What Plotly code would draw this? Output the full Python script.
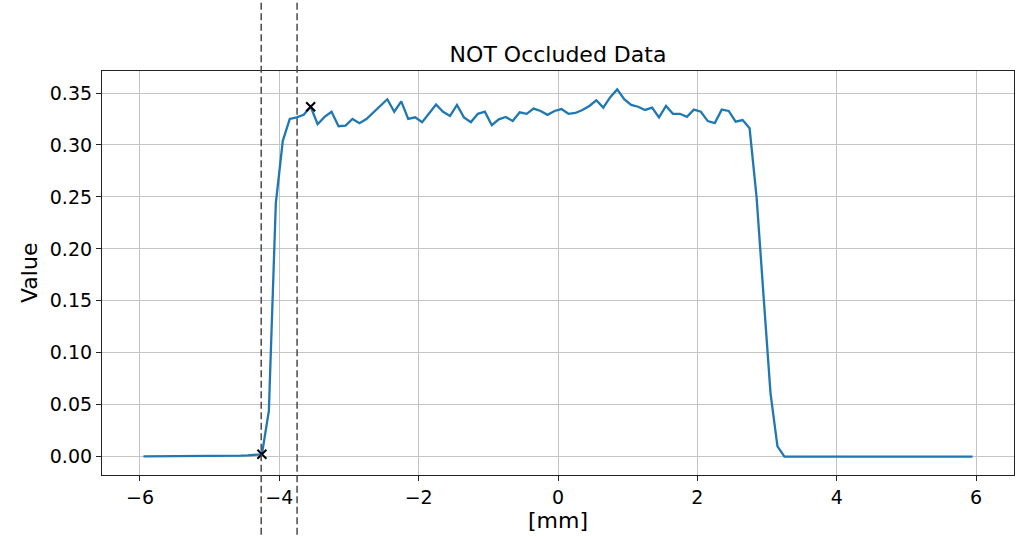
import numpy as np
import plotly.graph_objects as go

# ---- data ----
x_mm = np.round(np.linspace(-5.95, 5.95, 120), 2)
values = [
    0.0002, 0.0002, 0.0002, 0.0002, 0.0002, 0.0002, 0.0002, 0.0002, 0.0002, 0.0002, 0.0002,
    0.0003, 0.0004, 0.0006, 0.0009, 0.0012, 0.0016, 0.0022,
    0.044, 0.244, 0.304, 0.325, 0.3266, 0.329, 0.3368,
    0.320, 0.327, 0.332, 0.318, 0.3186, 0.325, 0.321, 0.325, 0.3314, 0.3375,
    0.344, 0.332, 0.342, 0.325, 0.3266, 0.322, 0.330, 0.339, 0.332, 0.328,
    0.3385, 0.3266, 0.322, 0.330, 0.332, 0.319, 0.3247, 0.327, 0.323, 0.3314,
    0.330, 0.335, 0.3327, 0.329, 0.3327, 0.3346, 0.330, 0.3308, 0.3337, 0.3375,
    0.343, 0.336, 0.346, 0.3535, 0.344, 0.3385, 0.3368, 0.3337, 0.336, 0.3266,
    0.3375, 0.330, 0.330, 0.327, 0.334, 0.332, 0.323, 0.321, 0.334, 0.3327,
    0.3224, 0.324, 0.316, 0.250, 0.155, 0.0612, 0.0099,
    0.0, 0.0, 0.0, 0.0, 0.0, 0.0, 0.0, 0.0, 0.0, 0.0, 0.0, 0.0, 0.0, 0.0,
    0.0, 0.0, 0.0, 0.0, 0.0, 0.0, 0.0, 0.0, 0.0, 0.0, 0.0, 0.0, 0.0, 0.0,
]
marker_x = [-4.25, -3.55]
marker_y = [0.0022, 0.3368]
vline_x = [-4.26, -3.745]
y_ticks = [0.0, 0.05, 0.10, 0.15, 0.20, 0.25, 0.30, 0.35]
x_ticks = [-6, -4, -2, 0, 2, 4, 6]

FONT = "DejaVu Sans"
TICK_SIZE = 19
LABEL_SIZE = 22

fig = go.Figure()
fig.add_trace(go.Scatter(x=x_mm, y=values, mode="lines",
                         line=dict(color="#1f77b4", width=2.3),
                         showlegend=False, hoverinfo="skip"))
fig.add_trace(go.Scatter(x=marker_x, y=marker_y, mode="markers",
                         marker=dict(symbol="x-thin", size=9, color="black",
                                     line=dict(color="black", width=2)),
                         showlegend=False, hoverinfo="skip"))

for xv in vline_x:
    fig.add_shape(type="line", xref="x", yref="paper", x0=xv, x1=xv,
                  y0=-0.2, y1=1.2,
                  line=dict(color="#4a4a4a", width=1.5, dash="7px,3.5px"))

W, H = 1020, 536
L, R, T, B = 102, 6, 71, 61
plot_h = H - T - B
plot_w = W - L - R

axis_common = dict(showgrid=True, gridcolor="#c4c4c4", gridwidth=1.3,
                   zeroline=False, showline=True, linecolor="#222222", linewidth=1.2,
                   mirror=True, ticks="outside", ticklen=5, tickwidth=1.2,
                   tickcolor="#222222",
                   tickfont=dict(family=FONT, size=TICK_SIZE, color="black"))

fig.update_layout(
    width=W, height=H,
    margin=dict(l=L, r=R, t=T, b=B),
    paper_bgcolor="white", plot_bgcolor="white",
    font=dict(family=FONT, size=TICK_SIZE, color="black"),
    title=dict(text="NOT Occluded Data", x=(L + plot_w / 2) / W, xanchor="center",
               xref="container", yref="container", y=1 - 54 / H, yanchor="middle",
               font=dict(family=FONT, size=LABEL_SIZE, color="black")),
    xaxis=dict(range=[-6.545, 6.545], tickvals=x_ticks,
               ticktext=["\u22126", "\u22124", "\u22122", "0", "2", "4", "6"],
               **axis_common),
    yaxis=dict(range=[-0.0177, 0.3712], tickvals=y_ticks, tickformat=".2f",
               **axis_common),
    annotations=[
        dict(text="Value", xref="paper", yref="paper", x=(29 - L) / plot_w, y=0.5,
             textangle=-90, showarrow=False, xanchor="center", yanchor="middle",
             font=dict(family=FONT, size=LABEL_SIZE, color="black")),
        dict(text="[mm]", xref="paper", yref="paper", x=(558 - L) / plot_w,
             y=-(520 - (H - B)) / plot_h, showarrow=False, xanchor="center", yanchor="middle",
             font=dict(family=FONT, size=LABEL_SIZE, color="black")),
    ],
)

fig.write_html("out.html")
